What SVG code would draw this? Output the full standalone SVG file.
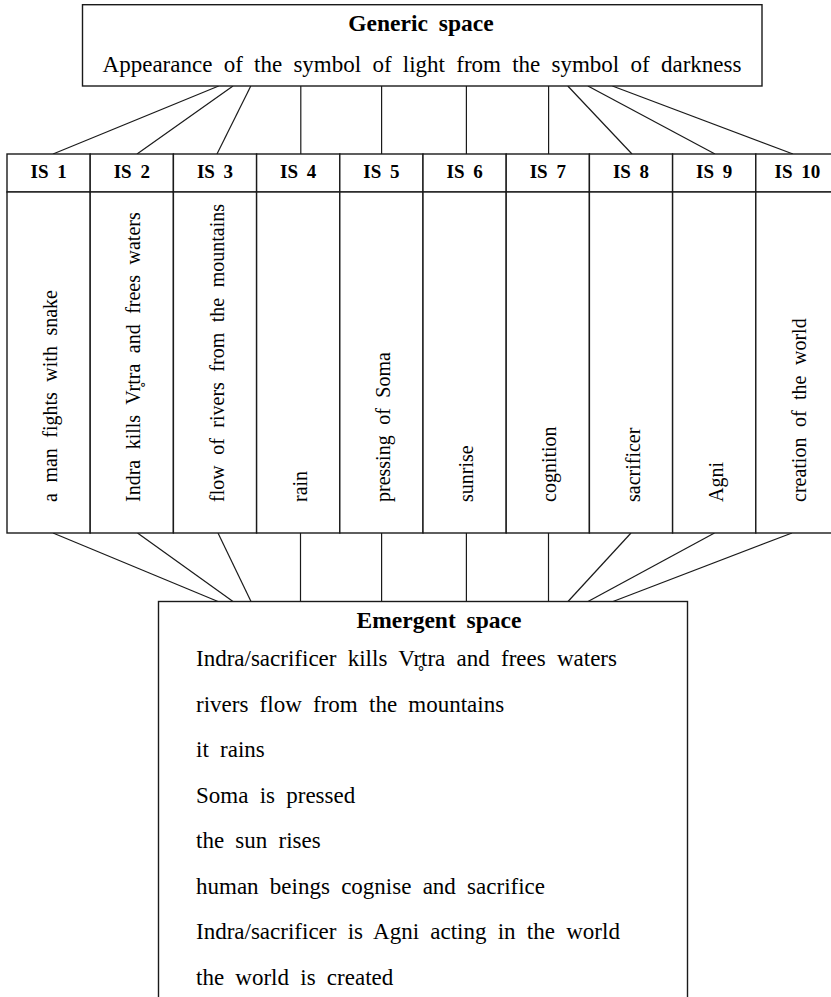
<svg xmlns="http://www.w3.org/2000/svg" width="831" height="997" viewBox="0 0 831 997">
<style>
.box{fill:#fff;stroke:#1a1a1a;stroke-width:1.4}
.ln{stroke:#1a1a1a;stroke-width:1.2;fill:none}
text{font-family:"Liberation Serif","Times New Roman",serif;fill:#000}
.tb{font-weight:bold;font-size:23.5px;word-spacing:5px;text-anchor:middle}
.tx{font-size:23px;word-spacing:5.5px}
.hd{font-weight:bold;font-size:19px;word-spacing:4px;text-anchor:middle}
.vt{font-size:20px;word-spacing:5.5px}
</style>
<rect width="831" height="997" fill="#fff"/>
<g id="connectors">
<line class="ln" x1="218.7" y1="86" x2="53" y2="154"/>
<line class="ln" x1="233" y1="86" x2="137" y2="154"/>
<line class="ln" x1="250.8" y1="86" x2="217" y2="154"/>
<line class="ln" x1="300.8" y1="86" x2="300.8" y2="154"/>
<line class="ln" x1="381.6" y1="86" x2="381.6" y2="154"/>
<line class="ln" x1="466.4" y1="86" x2="466.4" y2="154"/>
<line class="ln" x1="548.6" y1="86" x2="548.6" y2="154"/>
<line class="ln" x1="567.8" y1="86" x2="632" y2="154"/>
<line class="ln" x1="587.9" y1="86" x2="715" y2="154"/>
<line class="ln" x1="612.4" y1="86" x2="793" y2="154"/>
<line class="ln" x1="53" y1="533" x2="218" y2="601.5"/>
<line class="ln" x1="137.5" y1="533" x2="233" y2="601.5"/>
<line class="ln" x1="218" y1="533" x2="251" y2="601.5"/>
<line class="ln" x1="300.5" y1="533" x2="300.5" y2="601.5"/>
<line class="ln" x1="381.6" y1="533" x2="381.6" y2="601.5"/>
<line class="ln" x1="466.4" y1="533" x2="466.4" y2="601.5"/>
<line class="ln" x1="548.5" y1="533" x2="548.5" y2="601.5"/>
<line class="ln" x1="631" y1="533" x2="568" y2="601.5"/>
<line class="ln" x1="714.5" y1="533" x2="588" y2="601.5"/>
<line class="ln" x1="792" y1="533" x2="613" y2="601.5"/>
</g>
<g id="generic">
<rect class="box" x="82.5" y="4.7" width="679.5" height="81.3"/>
<text class="tb" x="421" y="31">Generic space</text>
<text class="tx" x="422" y="72" text-anchor="middle">Appearance of the symbol of light from the symbol of darkness</text>
</g>
<g id="is1">
<rect class="box" x="7" y="154" width="83.2" height="38"/><rect class="box" x="7" y="192" width="83.2" height="341"/>
<text class="hd" x="48.6" y="177.7">IS 1</text>
<text class="vt" transform="translate(57.1,502) rotate(-90)">a man fights with snake</text>
</g>
<g id="is2">
<rect class="box" x="90.2" y="154" width="83.2" height="38"/><rect class="box" x="90.2" y="192" width="83.2" height="341"/>
<text class="hd" x="131.8" y="177.7">IS 2</text>
<text class="vt" transform="translate(140.3,502) rotate(-90)">Indra kills Vr̥tra and frees waters</text>
</g>
<g id="is3">
<rect class="box" x="173.4" y="154" width="83.2" height="38"/><rect class="box" x="173.4" y="192" width="83.2" height="341"/>
<text class="hd" x="215" y="177.7">IS 3</text>
<text class="vt" transform="translate(223.5,502) rotate(-90)">flow of rivers from the mountains</text>
</g>
<g id="is4">
<rect class="box" x="256.6" y="154" width="83.2" height="38"/><rect class="box" x="256.6" y="192" width="83.2" height="341"/>
<text class="hd" x="298.2" y="177.7">IS 4</text>
<text class="vt" transform="translate(306.7,502) rotate(-90)">rain</text>
</g>
<g id="is5">
<rect class="box" x="339.8" y="154" width="83.2" height="38"/><rect class="box" x="339.8" y="192" width="83.2" height="341"/>
<text class="hd" x="381.4" y="177.7">IS 5</text>
<text class="vt" transform="translate(389.9,502) rotate(-90)">pressing of Soma</text>
</g>
<g id="is6">
<rect class="box" x="423" y="154" width="83.2" height="38"/><rect class="box" x="423" y="192" width="83.2" height="341"/>
<text class="hd" x="464.6" y="177.7">IS 6</text>
<text class="vt" transform="translate(473.1,502) rotate(-90)">sunrise</text>
</g>
<g id="is7">
<rect class="box" x="506.2" y="154" width="83.2" height="38"/><rect class="box" x="506.2" y="192" width="83.2" height="341"/>
<text class="hd" x="547.8" y="177.7">IS 7</text>
<text class="vt" transform="translate(556.3,502) rotate(-90)">cognition</text>
</g>
<g id="is8">
<rect class="box" x="589.4" y="154" width="83.2" height="38"/><rect class="box" x="589.4" y="192" width="83.2" height="341"/>
<text class="hd" x="631" y="177.7">IS 8</text>
<text class="vt" transform="translate(639.5,502) rotate(-90)">sacrificer</text>
</g>
<g id="is9">
<rect class="box" x="672.6" y="154" width="83.2" height="38"/><rect class="box" x="672.6" y="192" width="83.2" height="341"/>
<text class="hd" x="714.2" y="177.7">IS 9</text>
<text class="vt" transform="translate(722.7,502) rotate(-90)">Agni</text>
</g>
<g id="is10">
<rect class="box" x="755.8" y="154" width="83.2" height="38"/><rect class="box" x="755.8" y="192" width="83.2" height="341"/>
<text class="hd" x="797.4" y="177.7">IS 10</text>
<text class="vt" transform="translate(805.9,502) rotate(-90)">creation of the world</text>
</g>
<g id="emergent">
<rect class="box" x="158.5" y="601.5" width="529" height="420"/>
<text class="tb" x="439" y="628">Emergent space</text>
<text class="tx" x="196" y="666">Indra/sacrificer kills Vr̥tra and frees waters</text>
<text class="tx" x="196" y="711.5">rivers flow from the mountains</text>
<text class="tx" x="196" y="757">it rains</text>
<text class="tx" x="196" y="802.5">Soma is pressed</text>
<text class="tx" x="196" y="848">the sun rises</text>
<text class="tx" x="196" y="893.5">human beings cognise and sacrifice</text>
<text class="tx" x="196" y="939">Indra/sacrificer is Agni acting in the world</text>
<text class="tx" x="196" y="984.5">the world is created</text>
</g>
</svg>
